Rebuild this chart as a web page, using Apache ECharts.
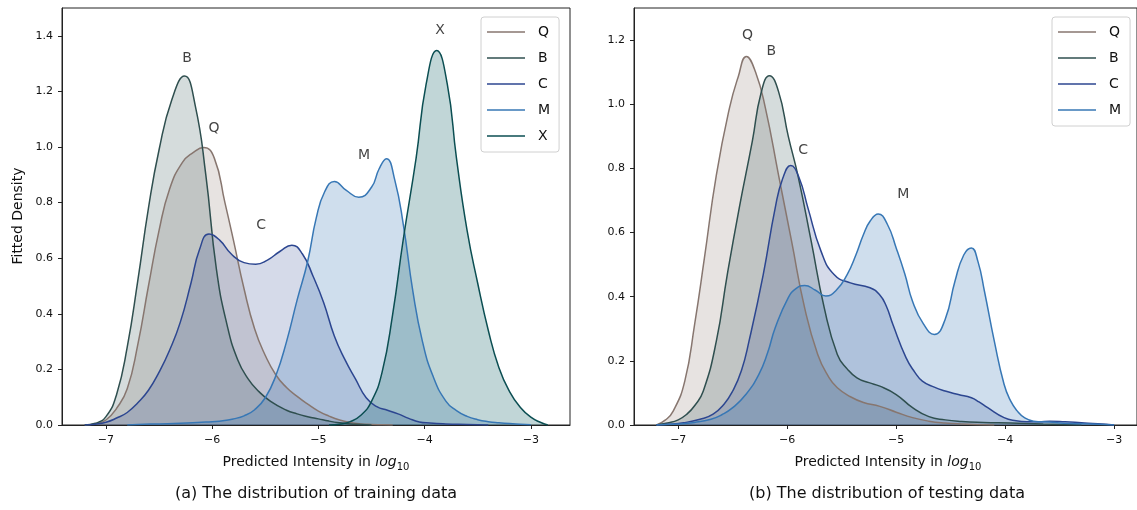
<!DOCTYPE html>
<html>
<head>
<meta charset="utf-8">
<script src="https://cdn.jsdelivr.net/npm/echarts@6/dist/echarts.min.js"></script>
<style>
html,body{margin:0;padding:0;background:#fff;}
#chart{width:1137px;height:510px;}
</style>
</head>
<body>
<div id="chart"></div>
<script>
// ---------- data (x = predicted intensity in log10, y = fitted density) ----------
const xTicks = [-7, -6, -5, -4, -3];
const yTicksTrain = [0, 0.2, 0.4, 0.6, 0.8, 1.0, 1.2, 1.4];
const yTicksTest = [0, 0.2, 0.4, 0.6, 0.8, 1.0, 1.2];
const trainNames = ['Q', 'B', 'C', 'M', 'X'];
const testNames = ['Q', 'B', 'C', 'M'];

const trainQ = [[-7.2,0],[-7.1,0.004],[-7.0,0.018],[-6.9,0.06],[-6.8,0.13],[-6.7,0.29],[-6.6,0.50],[-6.5,0.70],[-6.4,0.85],[-6.28,0.945],[-6.18,0.98],[-6.08,0.998],[-5.98,0.96],[-5.88,0.80],[-5.8,0.665],[-5.7,0.49],[-5.6,0.345],[-5.5,0.25],[-5.4,0.18],[-5.3,0.135],[-5.2,0.103],[-5.1,0.075],[-5.0,0.05],[-4.9,0.032],[-4.8,0.018],[-4.7,0.009],[-4.6,0.004],[-4.5,0.002],[-4.4,0.001],[-4.3,0]];
const trainB = [[-7.2,0],[-7.1,0.006],[-7.0,0.03],[-6.9,0.11],[-6.8,0.28],[-6.7,0.52],[-6.6,0.78],[-6.5,0.99],[-6.38,1.17],[-6.26,1.255],[-6.16,1.15],[-6.06,0.90],[-5.96,0.56],[-5.86,0.36],[-5.76,0.235],[-5.66,0.165],[-5.56,0.12],[-5.45,0.085],[-5.3,0.053],[-5.2,0.04],[-5.1,0.03],[-5.0,0.022],[-4.9,0.014],[-4.8,0.008],[-4.7,0.004],[-4.6,0.002],[-4.5,0]];
const trainC = [[-7.2,0],[-7.1,0.003],[-7.0,0.01],[-6.9,0.025],[-6.8,0.045],[-6.7,0.08],[-6.6,0.125],[-6.5,0.19],[-6.4,0.27],[-6.3,0.37],[-6.2,0.51],[-6.12,0.63],[-6.03,0.687],[-5.93,0.665],[-5.82,0.615],[-5.7,0.584],[-5.59,0.578],[-5.48,0.593],[-5.36,0.625],[-5.25,0.647],[-5.15,0.615],[-5.05,0.535],[-4.95,0.44],[-4.85,0.32],[-4.75,0.235],[-4.65,0.165],[-4.55,0.098],[-4.45,0.066],[-4.35,0.053],[-4.25,0.04],[-4.15,0.024],[-4.05,0.011],[-3.95,0.007],[-3.8,0.004],[-3.6,0.002],[-3.4,0]];
const trainM = [[-6.8,0],[-6.7,0.002],[-6.5,0.004],[-6.3,0.006],[-6.1,0.01],[-6.0,0.012],[-5.9,0.015],[-5.8,0.022],[-5.7,0.033],[-5.6,0.055],[-5.5,0.098],[-5.4,0.178],[-5.3,0.30],[-5.2,0.45],[-5.1,0.59],[-5.02,0.745],[-4.94,0.84],[-4.85,0.876],[-4.74,0.845],[-4.62,0.819],[-4.5,0.855],[-4.43,0.92],[-4.36,0.958],[-4.28,0.88],[-4.2,0.72],[-4.11,0.48],[-4.02,0.30],[-3.92,0.175],[-3.8,0.086],[-3.7,0.052],[-3.6,0.031],[-3.5,0.019],[-3.4,0.012],[-3.3,0.008],[-3.2,0.005],[-3.1,0.003],[-3.0,0.001]];
const trainX = [[-4.9,0],[-4.8,0.003],[-4.7,0.012],[-4.6,0.035],[-4.5,0.085],[-4.4,0.19],[-4.3,0.40],[-4.2,0.67],[-4.08,0.96],[-3.986,1.225],[-3.886,1.347],[-3.786,1.225],[-3.7,0.96],[-3.6,0.70],[-3.5,0.51],[-3.4,0.34],[-3.3,0.206],[-3.2,0.12],[-3.1,0.064],[-3.0,0.028],[-2.9,0.008],[-2.84,0]];

const testQ = [[-7.2,0],[-7.12,0.015],[-7.045,0.044],[-6.94,0.137],[-6.85,0.313],[-6.76,0.52],[-6.65,0.78],[-6.53,0.988],[-6.45,1.085],[-6.375,1.149],[-6.29,1.10],[-6.2,0.988],[-6.08,0.78],[-5.96,0.573],[-5.84,0.365],[-5.72,0.22],[-5.62,0.15],[-5.54,0.116],[-5.42,0.088],[-5.3,0.07],[-5.15,0.058],[-5.0,0.04],[-4.85,0.023],[-4.7,0.012],[-4.55,0.006],[-4.4,0.003],[-4.2,0.001],[-4.1,0]];
const testB = [[-7.2,0],[-7.1,0.006],[-7.0,0.016],[-6.92,0.034],[-6.85,0.06],[-6.77,0.106],[-6.65,0.262],[-6.55,0.469],[-6.44,0.677],[-6.32,0.885],[-6.24,1.035],[-6.163,1.089],[-6.08,1.04],[-5.99,0.90],[-5.9,0.775],[-5.78,0.573],[-5.66,0.365],[-5.54,0.22],[-5.45,0.175],[-5.36,0.147],[-5.25,0.132],[-5.15,0.121],[-5.0,0.095],[-4.85,0.054],[-4.7,0.026],[-4.55,0.016],[-4.4,0.011],[-4.2,0.008],[-3.95,0.006],[-3.65,0.003],[-3.3,0]];
const testC = [[-7.2,0],[-7.1,0.002],[-6.95,0.007],[-6.8,0.018],[-6.68,0.034],[-6.58,0.065],[-6.5,0.106],[-6.42,0.17],[-6.35,0.262],[-6.22,0.469],[-6.11,0.677],[-6.04,0.77],[-5.968,0.809],[-5.89,0.77],[-5.81,0.677],[-5.69,0.542],[-5.57,0.469],[-5.42,0.443],[-5.24,0.428],[-5.15,0.405],[-5.09,0.37],[-5.03,0.313],[-4.91,0.21],[-4.83,0.165],[-4.76,0.137],[-4.65,0.118],[-4.55,0.106],[-4.43,0.095],[-4.31,0.085],[-4.24,0.072],[-4.16,0.054],[-4.01,0.023],[-3.9,0.013],[-3.8,0.01],[-3.69,0.01],[-3.59,0.012],[-3.45,0.01],[-3.3,0.007],[-3.15,0.004],[-3.0,0]];
const testM = [[-7.2,0],[-7.0,0.003],[-6.85,0.008],[-6.7,0.018],[-6.6,0.032],[-6.5,0.054],[-6.38,0.095],[-6.26,0.158],[-6.18,0.225],[-6.11,0.303],[-5.99,0.397],[-5.92,0.425],[-5.84,0.435],[-5.74,0.42],[-5.646,0.402],[-5.55,0.42],[-5.45,0.469],[-5.37,0.53],[-5.3,0.594],[-5.24,0.635],[-5.165,0.658],[-5.08,0.625],[-5.0,0.552],[-4.92,0.47],[-4.85,0.386],[-4.75,0.315],[-4.65,0.282],[-4.55,0.33],[-4.46,0.449],[-4.38,0.53],[-4.31,0.552],[-4.25,0.51],[-4.19,0.417],[-4.1,0.262],[-4.01,0.127],[-3.95,0.075],[-3.89,0.044],[-3.82,0.022],[-3.74,0.012],[-3.6,0.009],[-3.4,0.005],[-3.2,0.003],[-3.0,0]];

// peak annotations (data coordinates)
const trainLabels = [['B',-6.237,1.319],['Q',-5.983,1.066],['C',-5.54,0.718],['M',-4.571,0.970],['X',-3.855,1.418]];
const testLabels = [['Q',-6.365,1.214],['B',-6.145,1.166],['C',-5.853,0.856],['M',-4.935,0.718]];

// ---------- styles ----------
const lineColors = {Q:'#87766f', B:'#2f4f4f', C:'#2c4690', M:'#3777b5', X:'#0b4e52'};
const fillColors = {Q:'rgba(135,115,105,0.2)', B:'rgba(47,79,79,0.2)', C:'rgba(44,70,144,0.2)', M:'rgba(55,119,181,0.24)', X:'rgba(14,95,100,0.26)'};
const FONT = '"DejaVu Sans", Verdana, sans-serif';
const TXT = '#111';

function kde(name, data, idx) {
  return {
    name: name, type: 'line', xAxisIndex: idx, yAxisIndex: idx,
    data: data, smooth: 0.5, showSymbol: false, symbol: 'none',
    color: lineColors[name],
    lineStyle: {color: lineColors[name], width: 1.5},
    areaStyle: {color: fillColors[name], opacity: 1},
    silent: true
  };
}
function labels(list, idx) {
  return {
    type: 'scatter', xAxisIndex: idx, yAxisIndex: idx, symbolSize: 0, silent: true,
    data: list.map(d => ({name: d[0], value: [d[1], d[2]]})),
    label: {show: true, position: 'inside', formatter: '{b}', fontFamily: FONT, fontSize: 14, color: TXT},
    z: 10
  };
}
const minus = v => String(v).replace('-', '\u2212');

function xAxis(idx, min, max) {
  return {
    type: 'value', gridIndex: idx, min: min, max: max,
    axisLine: {show: true, onZero: false, lineStyle: {color: '#222', width: 1}},
    axisTick: {show: true, length: 4, lineStyle: {color: '#222'}, customValues: xTicks},
    axisLabel: {fontFamily: FONT, fontSize: 11, color: TXT, margin: 10, customValues: xTicks, formatter: minus},
    splitLine: {show: false}
  };
}
function yAxis(idx, max, ticks) {
  return {
    type: 'value', gridIndex: idx, min: 0, max: max,
    axisLine: {show: true, lineStyle: {color: '#222', width: 1}},
    axisTick: {show: true, length: 4, lineStyle: {color: '#222'}, customValues: ticks},
    axisLabel: {fontFamily: FONT, fontSize: 11, color: TXT, margin: 9, customValues: ticks, formatter: v => v.toFixed(1)},
    splitLine: {show: false}
  };
}
function legend(left, names) {
  return {
    data: names, orient: 'vertical', left: left, top: 17,
    icon: 'rect', itemWidth: 38, itemHeight: 1.6, itemGap: 12,
    padding: [8, 9, 9, 6],
    backgroundColor: 'rgba(255,255,255,0.85)', borderColor: '#d0d0d0', borderWidth: 1, borderRadius: 3,
    textStyle: {fontFamily: FONT, fontSize: 14, color: TXT, padding: [0, 0, 0, 8]},
    selectedMode: false
  };
}

const chart = echarts.init(document.getElementById('chart'), null, {renderer: 'canvas'});
chart.setOption({
  animation: false,
  backgroundColor: '#fff',
  grid: [
    {left: 62, top: 8, width: 508, height: 417, show: true, borderColor: '#222', borderWidth: 1, backgroundColor: 'transparent'},
    {left: 634, top: 8, width: 512, height: 417, show: true, borderColor: '#222', borderWidth: 1, backgroundColor: 'transparent'}
  ],
  xAxis: [xAxis(0, -7.414, -2.631), xAxis(1, -7.406, -2.79)],
  yAxis: [yAxis(0, 1.5, yTicksTrain), yAxis(1, 1.3, yTicksTest)],
  legend: [legend(481, trainNames), legend(1052, testNames)],
  series: [
    kde('Q', trainQ, 0), kde('B', trainB, 0), kde('C', trainC, 0), kde('M', trainM, 0), kde('X', trainX, 0),
    kde('Q', testQ, 1), kde('B', testB, 1), kde('C', testC, 1), kde('M', testM, 1),
    labels(trainLabels, 0), labels(testLabels, 1)
  ],
  graphic: [
    {type: 'text', x: 18, y: 216, rotation: Math.PI / 2,
     style: {text: 'Fitted Density', font: '14px ' + FONT, fill: TXT, align: 'center', verticalAlign: 'middle'}},
    {type: 'text', x: 316, y: 462,
     style: {text: '{n|Predicted Intensity in }{i|log}{s|10}', align: 'center', verticalAlign: 'middle', fill: TXT,
       rich: {n: {fontFamily: FONT, fontSize: 14, lineHeight: 20, verticalAlign: 'middle', fill: TXT},
              i: {fontFamily: FONT, fontSize: 14, fontStyle: 'italic', lineHeight: 20, verticalAlign: 'middle', fill: TXT},
              s: {fontFamily: FONT, fontSize: 10, lineHeight: 10, verticalAlign: 'bottom', fill: TXT}}}},
    {type: 'text', x: 888, y: 462,
     style: {text: '{n|Predicted Intensity in }{i|log}{s|10}', align: 'center', verticalAlign: 'middle', fill: TXT,
       rich: {n: {fontFamily: FONT, fontSize: 14, lineHeight: 20, verticalAlign: 'middle', fill: TXT},
              i: {fontFamily: FONT, fontSize: 14, fontStyle: 'italic', lineHeight: 20, verticalAlign: 'middle', fill: TXT},
              s: {fontFamily: FONT, fontSize: 10, lineHeight: 10, verticalAlign: 'bottom', fill: TXT}}}},
    {type: 'text', x: 316, y: 494,
     style: {text: '(a) The distribution of training data', font: '16px ' + FONT, fill: TXT, align: 'center', verticalAlign: 'middle'}},
    {type: 'text', x: 887, y: 494,
     style: {text: '(b) The distribution of testing data', font: '16px ' + FONT, fill: TXT, align: 'center', verticalAlign: 'middle'}}
  ]
});
</script>
</body>
</html>
